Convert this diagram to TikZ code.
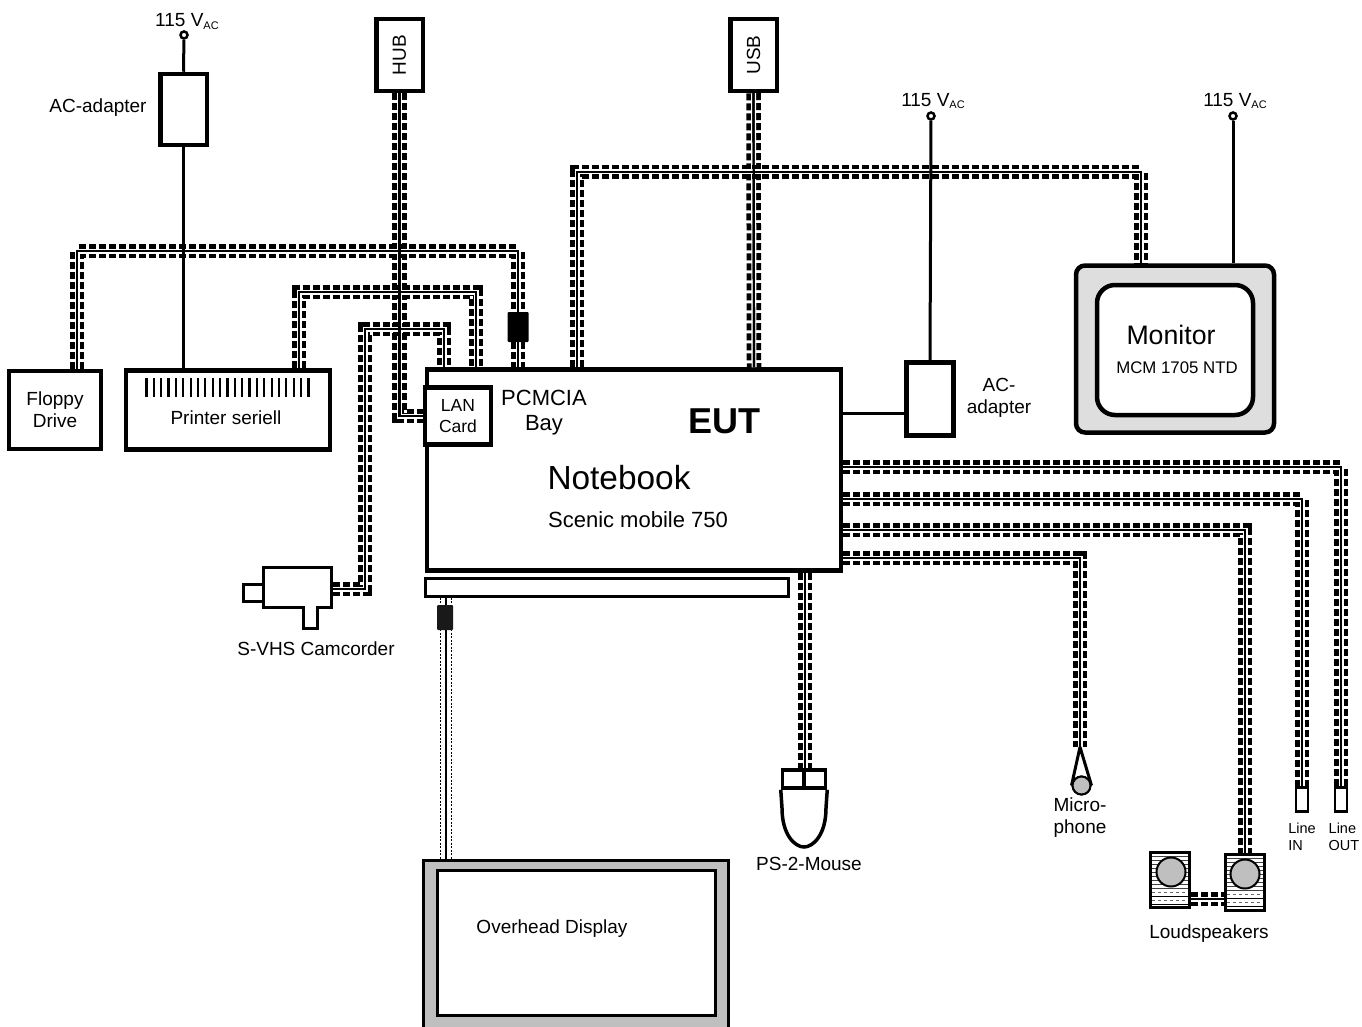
\documentclass[tikz,border=0pt]{standalone}
\usepackage{fontspec}
\setmainfont{Liberation Sans}
\usetikzlibrary{arrows.meta,positioning}
\newcommand{\fs}[1]{\fontsize{#1}{\the\dimexpr #1pt*115/100\relax}\selectfont}
\newcommand{\vac}{115 V\raisebox{-2.5pt}{\fontsize{11}{11}\selectfont AC}}
\tikzset{
  cable/.style={line width=14.5pt,dash pattern=on 7pt off 3pt,postaction={draw=white,solid,line width=5pt},postaction={draw=black,solid,line width=2.2pt}},
  core/.style={line width=2.2pt},
  thincable/.style={line width=13pt,draw=none,postaction={draw=black,line width=1.2pt,dash pattern=on 2pt off 1.5pt,transform canvas={xshift=-5.5pt}},postaction={draw=black,line width=1.2pt,dash pattern=on 2pt off 1.5pt,transform canvas={xshift=5.5pt}},postaction={draw=black,line width=1.5pt}},
  wire/.style={line width=3pt},
  box/.style={draw,line width=4.5pt,fill=white,inner sep=0pt},
  tinybox/.style={draw,line width=3pt,fill=white,inner sep=0pt},
  lab/.style={inner sep=0pt,align=center,font=\fs{19}},
  term/.style={circle,draw,line width=2.5pt,fill=white,minimum size=7pt,inner sep=0pt},
  ferrite/.style={fill=black,inner sep=0pt,rounded corners=1pt},
  cone/.style={circle,draw,line width=2pt,fill=black!25,inner sep=0pt},
}
\begin{document}
\begin{tikzpicture}[x=1pt,y=-1pt]
\useasboundingbox (0,0) rectangle (1362,1027);
\node[box,minimum width=46.5pt,minimum height=71pt] (acleft) at (183.5,109.5) {};
\node[box,minimum width=46.5pt,minimum height=72pt] (hub) at (399.5,55) {\rotatebox{90}{\fs{19}HUB}};
\node[box,minimum width=46.5pt,minimum height=72pt] (usb) at (753.5,55) {\rotatebox{90}{\fs{19}USB}};
\node[box,minimum width=92pt,minimum height=78pt] (floppy) at (55,410) {};
\node[box,minimum width=204pt,minimum height=79pt] (printer) at (228,410) {};
\node[box,minimum width=414pt,minimum height=201pt] (notebook) at (634,470) {};
\node[box,minimum width=47pt,minimum height=73pt] (acright) at (930,399) {};
\node[box,rounded corners=9pt,fill=black!13,minimum width=198pt,minimum height=167pt] (monitor) at (1175,349) {};
\node[box,rounded corners=18pt,minimum width=156pt,minimum height=130pt] (screen) at (1175,350) {};
\node[box,minimum width=66pt,minimum height=57pt] (lan) at (458,416) {};
\node[term] (pwra) at (184,35) {};
\node[term] (pwrb) at (931,116) {};
\node[term] (pwrc) at (1233,116) {};
\node[tinybox,line width=2.5pt,minimum width=12pt,minimum height=24pt] (linein) at (1302,799.5) {};
\node[tinybox,line width=2.5pt,minimum width=12pt,minimum height=24pt] (lineout) at (1341,799.5) {};
\node[tinybox,minimum width=363pt,minimum height=18pt] (dock) at (606.5,587) {};
\node[draw,line width=3pt,fill=black!25,inner sep=0pt,minimum width=305pt,minimum height=170pt] (display) at (576,945) {};
\node[tinybox,line width=3.5pt,minimum width=278pt,minimum height=145pt] (panel) at (576.5,943) {};
\node[tinybox,minimum width=39pt,minimum height=55pt] (spka) at (1170,880) {};
\node[tinybox,minimum width=39pt,minimum height=56pt] (spkb) at (1245,882) {};
\node[tinybox,minimum width=68pt,minimum height=40pt] (cam) at (297,587) {};
\node[tinybox,minimum width=20pt,minimum height=17pt] (lens) at (253,592.5) {};
\node[tinybox,minimum width=14pt,minimum height=20pt] (camfoot) at (310,618) {};
\fill[white] (304.5,604) rectangle (315.5,610);
\node[tinybox,line width=3.5pt,minimum width=43pt,minimum height=18pt] (mouse) at (804,779) {};
\coordinate (a1) at (floppy.north -| 77,0);
\coordinate (a2) at (notebook.north -| 518,0);
\coordinate (b1) at (printer.north -| 299,0);
\coordinate (b2) at (notebook.north -| 476,0);
\coordinate (c1) at (cam.east |- 0,589);
\coordinate (c2) at (notebook.north -| 444,0);
\coordinate (d1) at (notebook.north -| 577,0);
\coordinate (d2) at (monitor.north -| 1141,0);
\coordinate (e1) at (notebook.east |- 0,467);
\coordinate (e2) at (notebook.east |- 0,499);
\coordinate (e3) at (notebook.east |- 0,530);
\coordinate (e4) at (notebook.east |- 0,558);
\coordinate (m1) at (notebook.south -| 805,0);
\coordinate (m2) at (mouse.north -| 805,0);
\coordinate (g1) at (dock.south -| 446,0);
\coordinate (g2) at (display.north -| 446,0);
\coordinate (u1) at (usb.south);
\coordinate (u2) at (notebook.north -| 754,0);
\coordinate (h1) at (spka.east |- 0,899);
\coordinate (h2) at (spkb.west |- 0,899);
\coordinate (micneck) at (1080,747);
\draw[cable] (hub.south) |- (lan.west);
\draw[cable] (u1) -- (u2);
\draw[cable] (a1) |- (a2 |- 0,251) -- (a2);
\draw[cable] (b1) |- (b2 |- 0,292) -- (b2);
\draw[cable] (c1) -| (365,329) -| (c2);
\draw[cable] (d1) |- (d2 |- 0,172) -- (d2);
\draw[core] (hub.south) |- (lan.west);
\draw[core] (u1) -- (u2);
\draw[cable] (e1) -| (lineout.north);
\draw[cable] (e2) -| (linein.north);
\draw[cable] (e3) -| (spkb.north);
\draw[cable] (e4) -| (micneck);
\draw[cable] (m1) -- (m2);
\draw[cable] (h1) -- (h2);
\draw[thincable] (g1) -- (g2);
\draw[wire] (pwra) -- (acleft.north);
\draw[wire] (acleft.south) -- (printer.north -| acleft.south);
\draw[wire] (pwrb) -- (acright.north);
\draw[wire] (pwrc) -- (monitor.north -| pwrc);
\draw[wire] (notebook.east |- 0,413) -- (acright.west |- 0,413);
\node[ferrite,minimum width=21pt,minimum height=30pt] (chokea) at (518,327) {};
\node[ferrite,fill=black!90,minimum width=16pt,minimum height=25pt] (chokeb) at (445,617.5) {};
\foreach \i in {0,...,22} \draw[line width=2.2pt] (146.5+\i*7.36,378) -- (146.5+\i*7.36,397);
\foreach \y in {856,860,...,888} {
  \draw[line width=1pt,black!75] (1152,\y) -- (1188,\y);
  \draw[line width=1pt,black!75] (1227,\y+2) -- (1263,\y+2);
}
\foreach \y in {892,900} {
  \draw[line width=1pt,black!60,dashed] (1152,\y) -- (1188,\y);
  \draw[line width=1pt,black!60,dashed] (1227,\y+2) -- (1263,\y+2);
  \draw[line width=1pt] (1152,\y+4) -- (1188,\y+4);
  \draw[line width=1pt] (1227,\y+6) -- (1263,\y+6);
}
\node[cone,minimum size=29pt] (conea) at (1171,872) {};
\node[cone,minimum size=29pt] (coneb) at (1245,874) {};
\node[cone,minimum size=18pt] (mic) at (1081.5,785.5) {};
\draw[wire] (micneck) -- (mic.west) (micneck) -- (mic.east);
\node[cone,minimum size=18pt] (micfront) at (1081.5,785.5) {};
\draw[line width=3.5pt] (mouse.south west) -- (782,808) .. controls (782,835) and (795,847) .. (804,847) .. controls (813,847) and (826,835) .. (826,808) -- (mouse.south east);
\draw[line width=3.5pt] (mouse.north) -- (mouse.south);
\node[lab] (tv1) at (187,21.5) {\vac};
\node[lab] (tv2) at (933,101) {\vac};
\node[lab] (tv3) at (1235,101) {\vac};
\node[lab] (tac1) at (98,108) {AC-adapter};
\node[lab] (tac2) at (999,398) {AC-\\adapter};
\node[lab] (tfl) at (floppy) {Floppy\\Drive};
\node[lab] (tpr) at (226,418) {Printer seriell};
\node[lab,font=\fs{17.5}] (tlan) at (lan) {LAN\\Card};
\node[lab,font=\fs{22}] (tbay) at (544,412.5) {PCMCIA\\Bay};
\node[lab,font=\bfseries\fs{36}] (teut) at (724,421) {EUT};
\node[lab,font=\fs{33.4}] (tnb) at (619,478) {Notebook};
\node[lab,font=\fs{22}] (tsc) at (638,520) {Scenic mobile 750};
\node[lab,font=\fs{26.7}] (tmon) at (1171,335) {Monitor};
\node[lab,font=\fs{16.8}] (tmcm) at (1177,368) {MCM 1705 NTD};
\node[lab] (tcam) at (316,649) {S-VHS Camcorder};
\node[lab] (tov) at (552,929) {Overhead Display};
\node[lab] (tms) at (809,864) {PS-2-Mouse};
\node[lab] (tmic) at (1080,818) {Micro-\\phone};
\node[lab] (tsp) at (1209,934) {Loudspeakers};
\node[lab,align=left,font=\fs{14.5}] (tin) at (1302,836.5) {Line\\IN};
\node[lab,align=left,font=\fs{14.5}] (tout) at (1344,836.5) {Line\\OUT};
\end{tikzpicture}
\end{document}
